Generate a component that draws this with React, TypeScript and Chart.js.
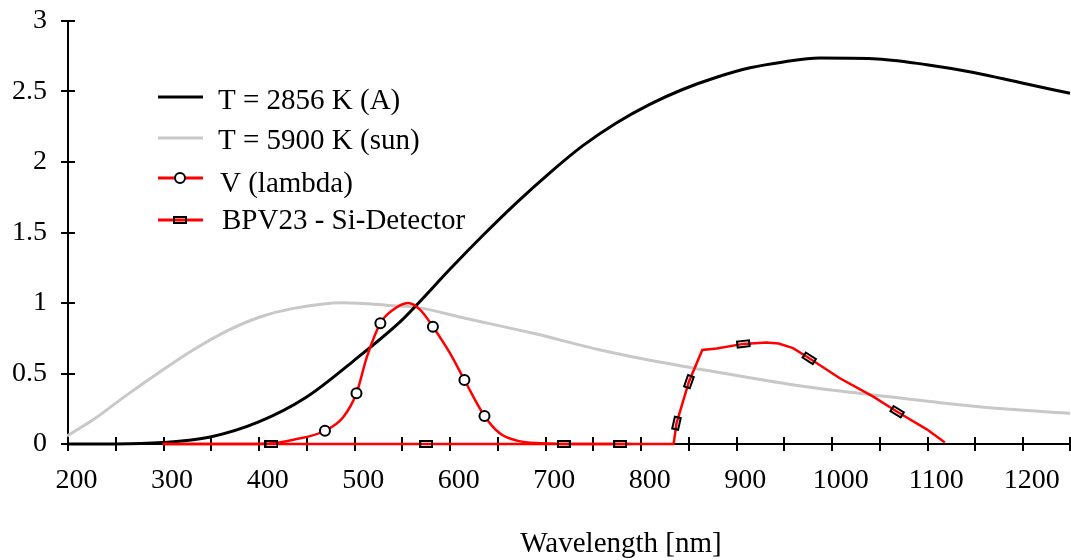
import React, { useEffect, useRef } from "react";
import { Chart, registerables } from "chart.js";

Chart.register(...registerables);

// ---- data ----
const seriesLabels = [
  "T = 2856 K (A)",
  "T = 5900 K (sun)",
  "V (lambda)",
  "BPV23 - Si-Detector",
];

const lambdaA = [191, 240, 290, 340, 390, 440, 490, 540, 556, 591, 626, 661, 696, 730, 765, 800, 835, 870, 905, 940, 978, 1034, 1090, 1139, 1191, 1240];
const valuesA = [0, 0, 0.01, 0.05, 0.155, 0.33, 0.59, 0.875, 0.986, 1.241, 1.484, 1.714, 1.927, 2.116, 2.277, 2.409, 2.516, 2.601, 2.668, 2.71, 2.737, 2.733, 2.69, 2.635, 2.558, 2.487];

const lambdaS = [190, 218, 252, 287, 322, 357, 392, 427, 479, 531, 556, 608, 678, 748, 818, 894, 964, 1034, 1104, 1173, 1240];
const valuesS = [0.057, 0.175, 0.345, 0.511, 0.667, 0.801, 0.901, 0.962, 1.002, 0.981, 0.969, 0.89, 0.785, 0.667, 0.572, 0.482, 0.406, 0.348, 0.293, 0.248, 0.218];

const lambdaV = [290, 380, 406, 427, 460, 479, 493, 504, 518, 531, 547, 560, 573, 591, 606, 627, 643, 661, 685, 720, 780];
const valuesV = [0, 0, 0.005, 0.03, 0.094, 0.19, 0.36, 0.62, 0.856, 0.95, 1.0, 0.95, 0.832, 0.643, 0.454, 0.199, 0.076, 0.024, 0.005, 0, 0];

const lambdaVMarks = [460, 493, 518, 573, 606, 627];
const valuesVMarks = [0.094, 0.36, 0.856, 0.832, 0.454, 0.199];

const lambdaB = [290, 825, 828, 841, 855, 870, 898, 922, 935, 950, 967, 999, 1034, 1059, 1090, 1109];
const valuesB = [0, 0, 0.147, 0.442, 0.667, 0.678, 0.71, 0.719, 0.712, 0.68, 0.608, 0.466, 0.336, 0.229, 0.104, 0.01];

const lambdaBMarks = [404, 566, 710, 769, 828, 841, 898, 967, 1059];
const valuesBMarks = [0, 0, 0, 0, 0.147, 0.442, 0.71, 0.608, 0.229];

const xLabelValues = [200, 300, 400, 500, 600, 700, 800, 900, 1000, 1100, 1200];
const xMin = 191;
const xMax = 1241;
const xTickStep = 50;
const yMin = 0;
const yMax = 3;
const yStep = 0.5;
const xTitle = "Wavelength [nm]";

const FONT = "'Liberation Serif', 'Times New Roman', serif";
const RED = "#ff0000";
const GREY = "#c8c8c8";

const toPts = (xs: number[], ys: number[]) => xs.map((x, i) => ({ x, y: ys[i] }));

function interpB(l: number) {
  if (l <= lambdaB[0]) return valuesB[0];
  for (let i = 1; i < lambdaB.length; i++) {
    if (l <= lambdaB[i]) {
      const t = (l - lambdaB[i - 1]) / (lambdaB[i] - lambdaB[i - 1]);
      return valuesB[i - 1] + t * (valuesB[i] - valuesB[i - 1]);
    }
  }
  return valuesB[valuesB.length - 1];
}

export default function App() {
  const ref = useRef<HTMLCanvasElement | null>(null);

  useEffect(() => {
    if (!ref.current) return;

    const rectMarker = document.createElement("canvas");
    rectMarker.width = 14;
    rectMarker.height = 8;
    {
      const g = rectMarker.getContext("2d")!;
      g.strokeStyle = "#000";
      g.lineWidth = 2;
      g.strokeRect(1, 1, 12, 6);
    }

    const axesPlugin = {
      id: "axesTicks",
      beforeDatasetsDraw(chart: any) {
        const { ctx, chartArea } = chart;
        const x = chart.scales.x;
        const y = chart.scales.y;
        const y0 = y.getPixelForValue(0);
        const x0 = chartArea.left;
        ctx.save();
        ctx.strokeStyle = "#000";
        ctx.lineWidth = 2;
        ctx.beginPath();
        ctx.moveTo(chartArea.left, y0);
        ctx.lineTo(chartArea.right + 1, y0);
        ctx.moveTo(x0, y.getPixelForValue(yMax) - 1);
        ctx.lineTo(x0, y0);
        for (let v = xMin; v <= xMax + 0.001; v += xTickStep) {
          const px = Math.min(Math.round(x.getPixelForValue(v)), chartArea.right - 1);
          ctx.moveTo(px, y0 - 7);
          ctx.lineTo(px, y0 + 7);
        }
        for (let v = yMin; v <= yMax + 0.001; v += yStep) {
          const py = Math.round(y.getPixelForValue(v));
          ctx.moveTo(x0 - 7, py);
          ctx.lineTo(x0 + 7, py);
        }
        ctx.stroke();
        ctx.restore();
      },
    };

    const legendPlugin = {
      id: "customLegend",
      afterDraw(chart: any) {
        const ctx = chart.ctx;
        const lineY = [97, 138, 178, 220];
        const textX = [218, 218, 220, 222];
        const textY = [101, 141, 184, 221];
        const colors = ["#000", GREY, RED, RED];
        ctx.save();
        for (let i = 0; i < 4; i++) {
          ctx.strokeStyle = colors[i];
          ctx.lineWidth = 3;
          ctx.beginPath();
          ctx.moveTo(158, lineY[i]);
          ctx.lineTo(203, lineY[i]);
          ctx.stroke();
          if (i === 2) {
            ctx.beginPath();
            ctx.arc(180, lineY[i], 5, 0, Math.PI * 2);
            ctx.fillStyle = "#fff";
            ctx.fill();
            ctx.strokeStyle = "#000";
            ctx.lineWidth = 2;
            ctx.stroke();
          }
          if (i === 3) {
            ctx.drawImage(rectMarker, 180 - 7, lineY[i] - 4);
          }
          ctx.fillStyle = "#000";
          ctx.font = `29px ${FONT}`;
          ctx.textAlign = "left";
          ctx.textBaseline = "middle";
          ctx.fillText(seriesLabels[i], textX[i], textY[i]);
        }
        ctx.font = `29px ${FONT}`;
        ctx.textAlign = "center";
        ctx.textBaseline = "middle";
        ctx.fillText(xTitle, 621, 544);
        ctx.restore();
      },
    };

    const chart = new Chart(ref.current, {
      type: "line",
      data: {
        datasets: [
          {
            label: "V markers",
            data: toPts(lambdaVMarks, valuesVMarks),
            showLine: false,
            pointStyle: "circle",
            pointRadius: 5,
            pointBorderWidth: 2,
            pointBorderColor: "#000",
            pointBackgroundColor: "#fff",
            clip: false,
          } as any,
          {
            label: "BPV markers",
            data: toPts(lambdaBMarks, valuesBMarks),
            showLine: false,
            pointStyle: rectMarker,
            pointRadius: 6,
            pointRotation: (c: any) => {
              const ch = c.chart;
              const xs = ch.scales.x;
              const ys = ch.scales.y;
              const l = lambdaBMarks[c.dataIndex];
              if (!xs || !ys || l === undefined) return 0;
              const dx = xs.getPixelForValue(l + 4) - xs.getPixelForValue(l - 4);
              const dy = ys.getPixelForValue(interpB(l + 4)) - ys.getPixelForValue(interpB(l - 4));
              return (Math.atan2(dy, dx) * 180) / Math.PI;
            },
            clip: false,
          } as any,
          {
            label: seriesLabels[2],
            data: toPts(lambdaV, valuesV),
            borderColor: RED,
            borderWidth: 2.5,
            pointRadius: 0,
            cubicInterpolationMode: "monotone",
            clip: false,
          } as any,
          {
            label: seriesLabels[3],
            data: toPts(lambdaB, valuesB),
            borderColor: RED,
            borderWidth: 2.5,
            pointRadius: 0,
            tension: 0,
            clip: false,
          } as any,
          {
            label: seriesLabels[0],
            data: toPts(lambdaA, valuesA),
            borderColor: "#000",
            borderWidth: 3,
            pointRadius: 0,
            cubicInterpolationMode: "monotone",
            clip: false,
          } as any,
          {
            label: seriesLabels[1],
            data: toPts(lambdaS, valuesS),
            borderColor: GREY,
            borderWidth: 3,
            pointRadius: 0,
            cubicInterpolationMode: "monotone",
            clip: false,
          } as any,
        ],
      },
      options: {
        animation: false,
        responsive: true,
        maintainAspectRatio: false,
        events: [],
        layout: { autoPadding: false, padding: { top: 21, right: 0, left: 0, bottom: 0 } },
        plugins: {
          legend: { display: false },
          tooltip: { enabled: false },
          title: { display: false },
        },
        scales: {
          x: {
            type: "linear",
            min: xMin,
            max: xMax,
            grid: { display: false, drawTicks: false },
            border: { display: false },
            ticks: {
              font: { family: FONT, size: 28 },
              color: "#000",
              padding: 20,
              autoSkip: false,
              maxRotation: 0,
              callback: (v: any) => String(v),
            },
            afterBuildTicks: (s: any) => {
              s.ticks = xLabelValues.map((v) => ({ value: v }));
            },
            afterFit: (s: any) => {
              s.height = 116;
              s.paddingLeft = 0;
              s.paddingRight = 0;
            },
          },
          y: {
            min: yMin,
            max: yMax,
            grid: { display: false, drawTicks: false },
            border: { display: false },
            ticks: {
              stepSize: yStep,
              font: { family: FONT, size: 28 },
              color: "#000",
              padding: 21,
              callback: (v: any) => String(v),
            },
            afterFit: (s: any) => {
              s.width = 68;
              s.paddingTop = 0;
              s.paddingBottom = 0;
            },
          },
        },
      } as any,
      plugins: [axesPlugin, legendPlugin],
    });

    return () => chart.destroy();
  }, []);

  return (
    <div style={{ position: "absolute", left: 0, top: 0, width: 1071, height: 560, background: "#fff" }}>
      <canvas ref={ref} />
    </div>
  );
}
